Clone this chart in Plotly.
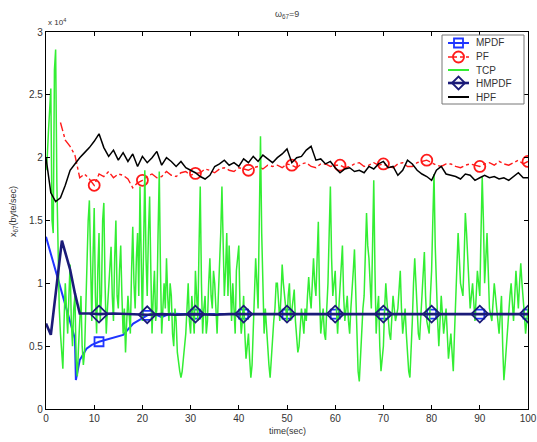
import numpy as np
import plotly.graph_objects as go

# ---------------- data (values in units of 10^4 byte/sec) ----------------
mpdf_t = [0, 6.0, 6.2, 7.0, 8.4, 9.5, 11, 13.3, 16, 18.1, 20.2, 21, 22.3, 24, 25.7, 28,
          31, 41, 50, 60, 70, 80, 90, 100]
mpdf_v = [1.37, 0.56, 0.23, 0.39, 0.48, 0.51, 0.535, 0.56, 0.59, 0.68, 0.73, 0.745, 0.76,
          0.73, 0.76, 0.755, 0.755, 0.755, 0.755, 0.755, 0.755, 0.755, 0.755, 0.755]
mpdf_marks = [11, 21, 31, 41, 50, 60, 70, 80, 90, 100]

hmpdf_t = [0, 1, 3.3, 5, 6, 7, 9, 11, 14, 17, 21, 24, 27, 31, 35, 38, 41, 45, 50, 55,
           60, 65, 70, 75, 80, 85, 90, 95, 100]
hmpdf_v = [0.68, 0.59, 1.34, 1.11, 0.92, 0.76, 0.76, 0.755, 0.76, 0.755, 0.75, 0.755,
           0.75, 0.755, 0.75, 0.755, 0.755, 0.755, 0.755, 0.75, 0.755, 0.755, 0.755,
           0.75, 0.755, 0.755, 0.755, 0.755, 0.755]
hmpdf_marks = [11, 21, 31, 41, 50, 60, 70, 80, 90, 100]

pf_t = list(range(3, 101))
pf_v = [2.28, 2.14, 2.09, 2.02, 1.84, 1.87, 1.83,
        1.78, 1.87, 1.85, 1.89, 1.84, 1.87, 1.86, 1.83, 1.76, 1.80,
        1.82, 1.85, 1.87, 1.84, 1.85, 1.89, 1.86, 1.85, 1.88, 1.89,
        1.86, 1.875, 1.88, 1.91, 1.90, 1.88, 1.91, 1.92, 1.90, 1.89,
        1.92, 1.91, 1.90, 1.92, 1.93, 1.91, 1.94, 1.93, 1.94, 1.92,
        1.95, 1.94, 1.92, 1.95, 1.96, 1.93, 1.92, 1.95, 1.95, 1.93,
        1.94, 1.94, 1.92, 1.93, 1.95, 1.96, 1.93, 1.94, 1.96, 1.94,
        1.95, 1.93, 1.92, 1.95, 1.96, 1.93, 1.93, 1.96, 1.97, 1.98,
        1.96, 1.94, 1.93, 1.95, 1.95, 1.93, 1.92, 1.94, 1.95, 1.94,
        1.93, 1.95, 1.96, 1.94, 1.97, 1.95, 1.94, 1.96, 1.98, 1.95,
        1.97]
pf_marks = [10, 20, 31, 42, 51, 61, 70, 79, 90, 100]

hpf_t = list(range(0, 101))
hpf_v = [2.00, 1.72, 1.65, 1.68, 1.78, 1.90, 1.95, 2.00, 2.04, 2.08,
         2.13, 2.19, 2.08, 2.01, 2.06, 1.98, 2.04, 1.97, 2.03, 1.93,
         2.01, 1.96, 2.00, 2.05, 1.94, 2.00, 1.97, 1.93, 1.97, 1.92,
         1.90, 1.88, 1.85, 1.83, 1.86, 1.93, 1.95, 1.98, 1.94, 1.96,
         1.93, 1.99, 1.96, 2.01, 1.97, 2.02, 1.99, 1.96, 2.00, 2.03,
         2.07, 1.96, 2.00, 2.01, 2.06, 2.09, 1.98, 1.99, 1.95, 1.97,
         1.92, 1.88, 1.91, 1.92, 1.89, 1.90, 1.88, 1.93, 1.91, 1.95,
         1.97, 1.92, 1.93, 1.86, 1.90, 1.98, 1.95, 1.90, 1.87, 1.85,
         1.82, 1.90, 1.93, 1.87, 1.86, 1.85, 1.83, 1.87, 1.86, 1.82,
         1.84, 1.86, 1.84, 1.85, 1.83, 1.84, 1.82, 1.85, 1.88, 1.84,
         1.84]

# TCP samples at t = 0, 0.5, ..., 100
tcp_main = [1.9, 2.2, 2.55, 1.4, 2.86, 1.1, 0.6, 0.32, 1.0, 0.6,
            1.15, 0.5, 0.9, 0.26, 0.7, 0.5, 0.45, 1.2, 1.66, 0.7,
            1.6, 0.6, 1.4, 0.9, 1.64, 0.6, 1.0, 1.29, 0.7, 1.5,
            0.8, 1.3, 0.6, 0.45, 0.9, 0.6, 1.45, 0.8, 1.4, 1.77,
            0.7, 1.9, 0.9, 1.69, 0.6, 1.1, 0.8, 1.89, 0.6, 1.0,
            1.2, 0.7, 0.9, 0.5, 0.7, 0.35, 0.25, 0.4, 0.6, 1.0,
            0.6, 0.75, 1.1, 0.7, 1.77, 0.6, 0.9, 0.7, 1.2, 0.8,
            1.0, 0.6, 1.1, 1.77, 0.9, 1.4, 1.3, 0.7, 0.8, 1.1,
            1.3, 0.6, 0.9, 0.4, 0.6, 0.25, 0.6, 1.2, 0.8, 2.17,
            1.0, 0.8, 0.5, 0.25, 0.6, 0.8, 1.0, 0.7, 1.15, 0.9,
            0.7, 1.0, 0.8, 0.95, 0.6, 0.5, 0.8, 0.6, 0.7, 1.05,
            0.8, 1.2, 0.9, 1.49, 0.6, 0.8, 0.55, 1.0, 1.77, 0.9,
            1.1, 0.6, 1.0, 1.3, 0.7, 0.9, 0.6, 1.0, 1.27, 0.5,
            0.22, 0.7, 0.9, 1.56, 1.2, 0.8, 1.82, 0.6, 0.9, 0.3,
            0.5, 1.0, 0.7, 0.55, 0.9, 0.7, 0.8, 1.1, 0.6, 0.8,
            0.4, 0.25, 0.7, 1.2, 0.8, 0.55, 0.9, 1.25, 0.7, 0.6,
            1.1, 1.87, 0.9, 0.5, 0.9, 0.6, 0.8, 0.4, 0.6, 0.3,
            0.9, 1.4, 1.0, 0.9, 1.56, 1.2, 0.8, 1.0, 0.7, 1.1,
            0.9, 1.85, 1.0, 1.4, 0.8, 0.7, 1.0, 0.8, 0.6, 0.9,
            0.23, 0.5, 0.8, 1.0, 0.7, 1.1, 0.8, 1.16, 0.9, 0.6,
            0.8]
# TCP samples at t = 0.25, 0.75, ..., 99.75
tcp_mid = [2.0, 2.4, 1.5, 2.7, 1.8, 0.8, 0.45, 0.7, 0.8, 0.9,
           0.7, 0.8, 0.4, 0.5, 0.9, 0.35, 0.8, 1.5, 1.1, 1.2,
           0.9, 1.1, 0.7, 1.5, 1.0, 0.8, 1.2, 0.9, 1.2, 0.9,
           1.1, 0.9, 0.8, 0.7, 0.75, 1.1, 1.0, 1.2, 0.9, 1.2,
           1.3, 1.2, 1.4, 1.1, 0.9, 0.7, 1.4, 1.1, 0.8, 0.8,
           0.9, 1.0, 0.6, 0.8, 0.45, 0.3, 0.3, 0.5, 0.8, 0.7,
           0.9, 0.6, 0.9, 1.3, 1.0, 0.8, 0.6, 1.0, 0.9, 1.1,
           0.8, 0.9, 1.4, 1.2, 1.1, 0.9, 1.0, 1.0, 0.6, 1.2,
           0.8, 0.7, 0.6, 0.5, 0.4, 0.35, 0.9, 1.0, 1.5, 1.4,
           0.6, 0.6, 0.35, 0.4, 0.7, 1.0, 0.8, 0.9, 1.0, 0.75,
           0.9, 0.7, 0.9, 0.7, 0.45, 0.7, 0.7, 0.8, 0.9, 0.9,
           1.0, 1.0, 1.2, 0.9, 0.7, 0.6, 0.8, 1.4, 1.2, 1.0,
           0.8, 0.8, 1.2, 0.9, 0.8, 0.7, 0.8, 1.1, 0.9, 0.3,
           0.45, 0.8, 1.2, 1.3, 1.0, 1.3, 1.1, 0.8, 0.5, 0.4,
           0.8, 0.85, 0.6, 0.75, 0.8, 0.75, 0.95, 0.8, 0.7, 0.6,
           0.3, 0.45, 1.0, 1.0, 0.6, 0.75, 1.1, 0.9, 0.65, 0.9,
           1.5, 1.3, 0.7, 0.7, 0.75, 0.7, 0.6, 0.5, 0.45, 0.6,
           1.2, 1.2, 0.95, 1.2, 1.4, 1.0, 0.9, 0.85, 0.9, 1.0,
           1.4, 1.5, 1.2, 1.1, 0.75, 0.85, 0.9, 0.7, 0.75, 0.5,
           0.35, 0.65, 0.9, 0.85, 0.9, 0.95, 1.0, 1.0, 0.75, 0.7]

y_ticks = [0, 0.5, 1, 1.5, 2, 2.5, 3]
y_ticktext = ["0", "0.5", "1", "1.5", "2", "2.5", "3"]
x_ticks = list(range(0, 101, 10))

legend_names = ["MPDF", "PF", "TCP", "HMPDF", "HPF"]

# interleave the two TCP sample sets in time order
tcp_t, tcp_v = [], []
for i, v in enumerate(tcp_main):
    tcp_t.append(i * 0.5)
    tcp_v.append(v)
    if i < len(tcp_mid):
        tcp_t.append(i * 0.5 + 0.25)
        tcp_v.append(tcp_mid[i])

# ---------------- figure ----------------
def pick(ts, vs, marks):
    return [vs[ts.index(m)] for m in marks]

FONT = "Liberation Sans, Arial, sans-serif"
TXT = "#333333"
C_MPDF, C_PF, C_TCP, C_HM, C_HPF = "#1f35ff", "#ff1a1a", "#33ee33", "#1b1b78", "#000000"

fig = go.Figure()

def add_series(t, v, marks, color, width, dash, symbol, msize):
    fig.add_trace(go.Scatter(x=t, y=v, mode="lines", showlegend=False, hoverinfo="skip",
                             line=dict(color=color, width=width, dash=dash)))
    if marks:
        fig.add_trace(go.Scatter(x=marks, y=pick(t, v, marks), mode="markers",
                                 showlegend=False, hoverinfo="skip",
                                 marker=dict(symbol=symbol, size=msize, color=color,
                                             line=dict(color=color, width=1.8))))

add_series(mpdf_t, mpdf_v, mpdf_marks, C_MPDF, 2, "solid", "square-open", 9)
add_series(pf_t, pf_v, pf_marks, C_PF, 1.4, "dashdot", "circle-open", 11)
add_series(tcp_t, tcp_v, None, C_TCP, 1.5, "solid", None, 0)
add_series(hmpdf_t, hmpdf_v, hmpdf_marks, C_HM, 2.6, "solid", "diamond-open", 13)
add_series(hpf_t, hpf_v, None, C_HPF, 1.5, "solid", None, 0)

axis_common = dict(showline=True, linecolor="black", linewidth=1.2, mirror="ticks",
                   ticks="inside", ticklen=4, tickwidth=1.2, tickcolor="black",
                   showgrid=False, zeroline=False, automargin=False,
                   tickfont=dict(family=FONT, size=10, color=TXT))

fig.update_layout(
    width=537, height=442, autosize=False,
    margin=dict(l=46, r=9, t=32, b=33),
    paper_bgcolor="white", plot_bgcolor="white",
    font=dict(family=FONT, size=10, color=TXT),
    xaxis=dict(range=[0, 100], tickvals=x_ticks, **axis_common),
    yaxis=dict(range=[0, 3], tickvals=y_ticks, ticktext=y_ticktext, **axis_common),
    showlegend=False,
)

# ---------------- hand-built legend (compact, MATLAB style) ----------------
W, H = 482.0, 377.0          # plot-area size in px
def px(x):  # pixel x -> paper
    return (x - 46) / W
def py(y):  # pixel y -> paper
    return (409 - y) / H

fig.add_shape(type="rect", xref="paper", yref="paper",
              x0=px(442), x1=px(524), y0=py(104), y1=py(35),
              line=dict(color="#777777", width=1), fillcolor="white", layer="above")
rows = [43, 57, 70, 83, 97]
styles = [(C_MPDF, 2, "solid", "square"), (C_PF, 1.4, "dashdot", "circle"),
          (C_TCP, 2, "solid", None), (C_HM, 2.6, "solid", "diamond"),
          (C_HPF, 2, "solid", None)]
for name, yy, (col, w, dash, mk) in zip(legend_names, rows, styles):
    fig.add_shape(type="line", xref="paper", yref="paper",
                  x0=px(448), x1=px(469), y0=py(yy), y1=py(yy),
                  line=dict(color=col, width=w, dash=dash), layer="above")
    common = dict(xref="paper", yref="paper", xsizemode="pixel", ysizemode="pixel",
                  xanchor=px(458.5), yanchor=py(yy), layer="above",
                  line=dict(color=col, width=1.8), fillcolor="rgba(0,0,0,0)")
    if mk == "square":
        fig.add_shape(type="rect", x0=-4.5, x1=4.5, y0=-4.5, y1=4.5, **common)
    elif mk == "circle":
        fig.add_shape(type="circle", x0=-5.5, x1=5.5, y0=-5.5, y1=5.5, **common)
    elif mk == "diamond":
        fig.add_shape(type="path", path="M -6.5 0 L 0 6.5 L 6.5 0 L 0 -6.5 Z", **common)
    fig.add_annotation(text=name, xref="paper", yref="paper", x=px(474), y=py(yy),
                       xanchor="left", yanchor="middle", showarrow=False,
                       font=dict(family=FONT, size=10, color=TXT))

# ---------------- texts ----------------
fig.add_annotation(text="ω<sub>67</sub>=9", xref="paper", yref="paper",
                   x=0.5, y=py(14), yanchor="middle", showarrow=False,
                   font=dict(family=FONT, size=9, color="#444444"))
fig.add_annotation(text="x 10<sup>4</sup>", xref="paper", yref="paper",
                   x=0.0, y=py(22), xanchor="left", yanchor="middle",
                   showarrow=False, font=dict(family=FONT, size=8, color=TXT))
fig.add_annotation(text="time(sec)", xref="paper", yref="paper",
                   x=0.5, y=py(431), yanchor="middle", showarrow=False,
                   font=dict(family=FONT, size=9, color=TXT))
fig.add_annotation(text="x<sub>67</sub>(byte/sec)", xref="paper", yref="paper",
                   x=px(13), xanchor="center", y=py(212), yanchor="middle",
                   textangle=-90, showarrow=False,
                   font=dict(family=FONT, size=9, color=TXT))

fig.write_html(
    "out.html",
    config={"responsive": False, "displayModeBar": False},
    post_script=("document.documentElement.style.overflow='hidden';"
                 "document.body.style.overflow='hidden';"
                 "document.body.style.margin='0';document.body.style.padding='0';"),
)
